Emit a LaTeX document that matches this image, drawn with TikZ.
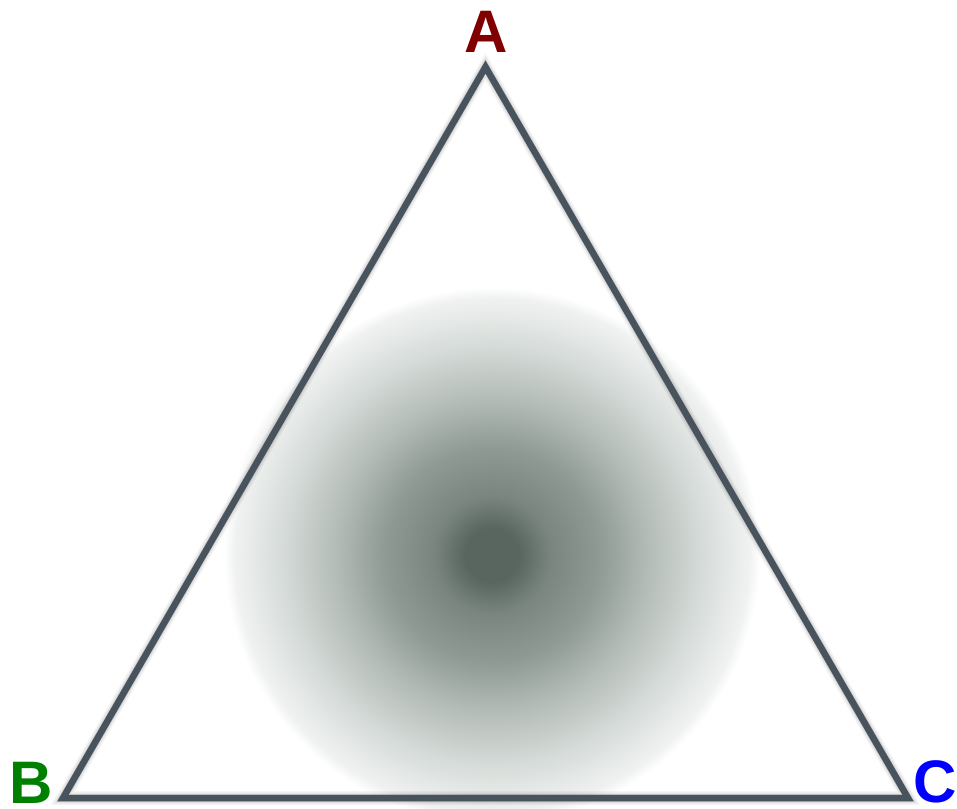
\documentclass[tikz,border=0pt]{standalone}
\usepackage{fontspec}
\setmainfont{Liberation Sans}
\definecolor{edgecol}{HTML}{48535E}
\definecolor{acol}{HTML}{800000}
\definecolor{bcol}{HTML}{008000}
\definecolor{ccol}{HTML}{0000FF}
\definecolor{g0}{HTML}{58665F}
\definecolor{g1}{HTML}{7A8580}
\definecolor{g2}{HTML}{8F9A94}
\definecolor{g3}{HTML}{B5BDB8}
\definecolor{g4}{HTML}{D5DBD8}
\definecolor{g5}{HTML}{F0F2F1}
\pgfdeclareradialshading{ball}{\pgfpoint{0bp}{0bp}}{%
  color(0bp)=(g0); color(2.5bp)=(g0); color(5.5bp)=(g1); color(10bp)=(g2);
  color(14.75bp)=(g3); color(19.5bp)=(g4); color(24bp)=(g5); color(25bp)=(white);
  color(50bp)=(white)}
\tikzset{
  vlabel/.style={font=\fontsize{60}{60}\selectfont\bfseries, inner sep=0pt},
  edge/.style={draw=edgecol, line width=6.5pt, line join=miter},
  shadowedge/.style={draw=black, line join=miter}
}
\begin{document}
\begin{tikzpicture}[x=1pt,y=1pt]
\useasboundingbox (0,0) rectangle (957,808);
\fill[white] (0,0) rectangle (957,808);
% shading ball
\shade[shading=ball] (492,253) circle (268);
% vertices
\coordinate (A) at (485.5,741);
\coordinate (B) at (63,10);
\coordinate (C) at (908,10);
% soft shadow
\begin{scope}[shift={(3,-3)}]
\draw[shadowedge, line width=14pt, opacity=0.04] (A) -- (B) -- (C) -- cycle;
\draw[shadowedge, line width=11pt, opacity=0.06] (A) -- (B) -- (C) -- cycle;
\draw[shadowedge, line width=8pt, opacity=0.10] (A) -- (B) -- (C) -- cycle;
\draw[shadowedge, line width=5pt, opacity=0.14] (A) -- (B) -- (C) -- cycle;
\end{scope}
% triangle
\draw[edge] (A) -- (B) -- (C) -- cycle;
% labels
\node[vlabel, text=acol] (la) at (486,776.5) {A};
\node[vlabel, text=bcol] (lb) at (31,25) {B};
\node[vlabel, text=ccol] (lc) at (935,26.5) {C};
\end{tikzpicture}
\end{document}
